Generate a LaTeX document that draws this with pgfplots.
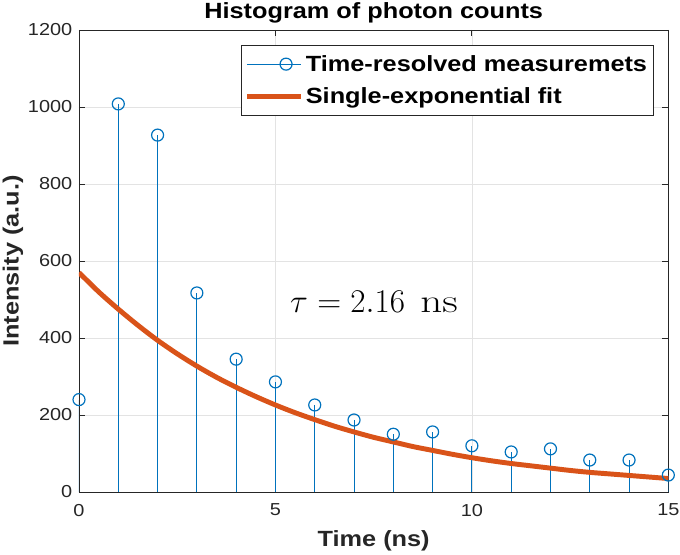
\documentclass[border=0pt]{standalone}
\usepackage{graphicx}
\usepackage{pgfplots}
\pgfplotsset{compat=1.18}
\usepackage[no-math]{fontspec}
\setmainfont[FakeStretch=1.15]{Liberation Sans}

\definecolor{mblue}{rgb}{0,0.447,0.741}
\definecolor{morange}{rgb}{0.85,0.325,0.098}
\definecolor{axgray}{rgb}{0.15,0.15,0.15}

\pgfplotsset{
  stem legend/.style={
    legend image code/.code={
      \path (0pt,0pt) -- (40pt,0pt);
      \draw[#1, sharp plot, mark repeat=2, mark phase=2]
        plot coordinates {(0pt,0pt) (29pt,0pt)};}
  },
  long line legend/.style={
    legend image code/.code={\draw[#1] (0pt,0pt) -- (40pt,0pt);}
  }
}

\begin{document}
\begin{tikzpicture}
\begin{axis}[
  name=ax,
  scale only axis,
  width=442pt, height=346.5pt,
  xmin=0, xmax=15, ymin=0, ymax=1200,
  xtick={0,5,10,15},
  ytick={0,200,400,600,800,1000,1200},
  grid=major,
  major grid style={draw=black!11, line width=0.5pt},
  axis line style={draw=axgray, line width=0.6pt},
  tick style={draw=axgray, line width=0.6pt},
  tick align=inside,
  major tick length=4.5pt,
  /pgf/number format/assume math mode=true,
  /pgf/number format/1000 sep={},
  tick label style={font=\fontsize{13}{15}\selectfont, text=axgray},
  yticklabel style={xshift=-1.5pt},
  xticklabel style={yshift=-5.5pt},
  title={\textbf{Histogram of photon counts}},
  title style={font=\fontsize{16.5}{19}\selectfont,
    at={(axis description cs:0.5,1)}, anchor=center, yshift=6.75pt},
  xlabel={\textbf{Time (ns)}},
  ylabel={\textbf{Intensity (a.u.)}},
  label style={font=\fontsize{16.5}{19}\selectfont, text=axgray},
  xlabel style={at={(axis description cs:0.5,0)}, anchor=center, yshift=-36.75pt},
  ylabel style={at={(axis description cs:-0.112,0.5)}, anchor=center},
  legend style={at={(0.976,0.968)}, anchor=north east, draw=axgray,
    line width=0.6pt,
    font=\fontsize{16.5}{19}\selectfont\bfseries, row sep=7pt,
    inner xsep=3pt, inner ysep=5.5pt},
  legend cell align=left,
]
\addplot[ycomb, draw=mblue, line width=0.75pt, mark=o,
  mark options={solid, line width=0.9pt}, mark size=4.5pt, stem legend]
coordinates {
  (0,240) (1,1008) (2,927) (3,517) (4,345) (5,286) (6,226) (7,187)
  (8,150) (9,156) (10,120) (11,104) (12,112) (13,83) (14,83) (15,44)
};
\addlegendentry{Time-resolved measuremets}
\addplot[draw=morange, line width=3.7pt, smooth, no marks, long line legend]
coordinates {
  (0,570) (0.5,520) (1,475) (1.5,433) (2,394) (2.5,359) (3,327) (3.5,298)
  (4,272) (4.5,248) (5,226) (5.5,206) (6,188) (6.5,171) (7,156) (7.5,142)
  (8,130) (8.5,118) (9,108) (9.5,98) (10,89) (10.5,81) (11,74) (11.5,68)
  (12,62) (12.5,56) (13,51) (13.5,47) (14,43) (14.5,39) (15,35)
};
\addlegendentry{Single-exponential fit}
\node[font=\fontsize{23}{27}\selectfont, anchor=base] at (axis cs:7.51,465)
  {$\tau = 2.16\ \,\scalebox{1.3}[1]{$\mathrm{ns}$}$};
\end{axis}
\pgfresetboundingbox
\path ([shift={(-59.25pt,-47.25pt)}]ax.south west)
  rectangle ([shift={(8.75pt,22.5pt)}]ax.north east);
\end{tikzpicture}
\end{document}
